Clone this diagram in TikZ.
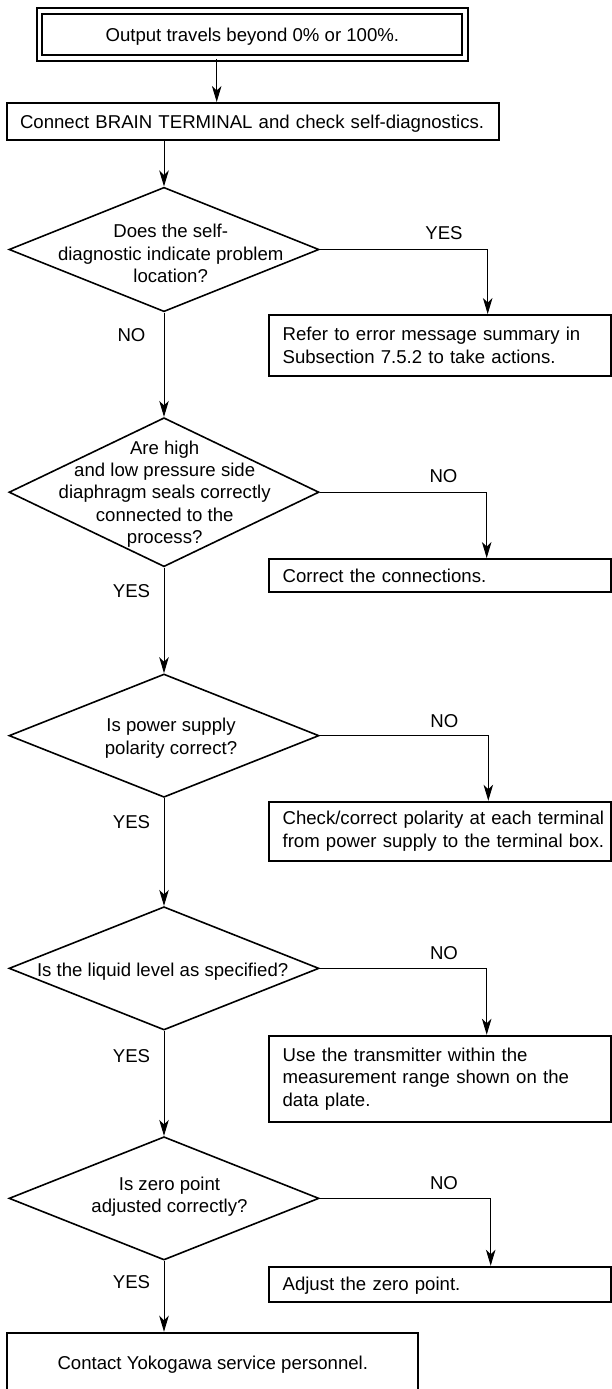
\documentclass[tikz,border=0pt]{standalone}
\usepackage{fontspec}
\setmainfont{Liberation Sans}
\usetikzlibrary{shapes.geometric,arrows.meta}
\begin{document}
\begin{tikzpicture}[x=1pt,y=-1pt,
  every node/.style={font=\fontsize{18.6pt}{22.4pt}\selectfont},
  procbox/.style={draw, line width=1.9pt, rectangle, inner sep=0pt},
  leftbox/.style={procbox, minimum width=341.7pt, text width=315.1pt, inner xsep=13.3pt, align=left},
  decision/.style={draw, diamond, line width=1.6pt, inner sep=0pt, minimum width=310pt, minimum height=123.3pt},
  dtext/.style={inner sep=0pt, align=center},
  flow/.style={line width=1pt, -{Stealth[length=16pt,width=9.5pt,inset=4.5pt]}},
  lbl/.style={inner sep=0pt}
]
\useasboundingbox (0,0) rectangle (612,1389);
\clip (0,0) rectangle (612,1389);

% start
\node[draw, double, double distance=3.9pt, line width=1.8pt, minimum width=425.7pt, minimum height=46.85pt, inner sep=0pt, text depth=0pt] (start) at (252.35,34.6) {Output travels beyond 0\% or 100\%.};
\node[procbox, minimum width=492.6pt, minimum height=37.3pt, text width=466pt, inner xsep=13.3pt, align=left, text depth=0pt] (diag) at (253,121.6) {Connect BRAIN TERMINAL and check self-diagnostics.};

% decision 1
\node[decision, minimum height=124.4pt] (d1) at (164,249.5) {};
\node[dtext] (d1t) at (170.7,253.7) {Does the self-\\diagnostic indicate problem\\location?};
\node[leftbox, minimum height=60.7pt] (r1) at (440.15,345.35) {Refer to error message summary in\\Subsection 7.5.2 to take actions.};
\node[lbl] (y1) at (444,233) {YES};
\node[lbl] (n1) at (131.5,335) {NO};

% decision 2
\node[decision, minimum height=149pt] (d2) at (164,492.2) {};
\node[dtext] (d2t) at (164.7,494) {Are high\\and low pressure side\\diaphragm seals correctly\\connected to the\\process?};
\node[leftbox, minimum height=32.7pt, text depth=0pt] (r2) at (440.15,575.35) {Correct the connections.};
\node[lbl] (n2) at (443.5,475.7) {NO};
\node[lbl] (y2) at (131.5,590.7) {YES};

% decision 3
\node[decision] (d3) at (164,735.65) {};
\node[dtext] (d3t) at (171,738.1) {Is power supply\\polarity correct?};
\node[leftbox, minimum height=59.3pt] (r3) at (440.15,831.35) {\mbox{Check/correct polarity at each terminal}\\\mbox{from power supply to the terminal box.}};
\node[lbl] (n3) at (444.3,720.7) {NO};
\node[lbl] (y3) at (131.5,821.7) {YES};

% decision 4
\node[decision] (d4) at (164,968.35) {};
\node[dtext] (d4t) at (162.7,971.2) {Is the liquid level as specified?};
\node[leftbox, minimum height=86.6pt] (r4) at (440.15,1079) {Use the transmitter within the\\measurement range shown on the\\data plate.};
\node[lbl] (n4) at (444,952.7) {NO};
\node[lbl] (y4) at (131.5,1055.7) {YES};

% decision 5
\node[decision] (d5) at (164,1198.35) {};
\node[dtext] (d5t) at (169.5,1196.4) {Is zero point\\adjusted correctly?};
\node[leftbox, minimum height=35pt, text depth=0pt] (r5) at (440.15,1284.2) {Adjust the zero point.};
\node[lbl] (n5) at (444,1182.7) {NO};
\node[lbl] (y5) at (131.5,1282.3) {YES};

% end
\node[procbox, minimum width=411pt, minimum height=60pt, text depth=0pt] (stop) at (212.8,1362.7) {Contact Yokogawa service personnel.};

% connectors
\draw[flow] ([xshift=-35.65pt]start.south) -- ([xshift=-35.65pt]start.south |- diag.north);
\draw[flow] (diag.south -| d1.north) -- (d1.north);
\draw[flow] (d1.east) -| ([xshift=47.55pt]r1.north);
\draw[flow] (d1.south) -- (d2.north);
\draw[flow] (d2.east) -| ([xshift=46.55pt]r2.north);
\draw[flow] (d2.south) -- (d3.north);
\draw[flow] (d3.east) -| ([xshift=48.15pt]r3.north);
\draw[flow] (d3.south) -- (d4.north);
\draw[flow] (d4.east) -| ([xshift=46.55pt]r4.north);
\draw[flow] (d4.south) -- (d5.north);
\draw[flow] (d5.east) -| ([xshift=50.55pt]r5.north);
\draw[flow] (d5.south) -- (d5.south |- stop.north);
\end{tikzpicture}
\end{document}
